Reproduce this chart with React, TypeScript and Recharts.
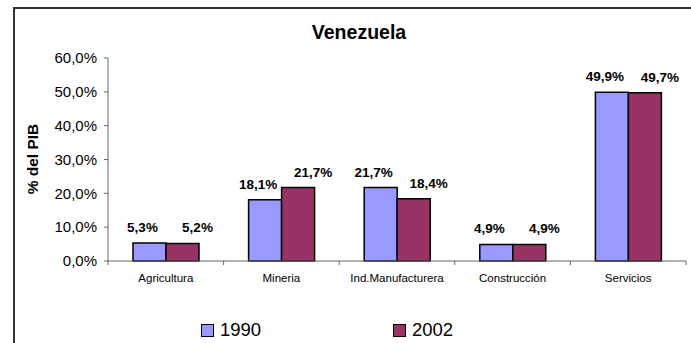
import React from "react";
import { Bar, BarChart, LabelList, XAxis, YAxis } from "recharts";

const categories = ["Agricultura", "Mineria", "Ind.Manufacturera", "Construcción", "Servicios"];
const values1990 = [5.3, 18.1, 21.7, 4.9, 49.9];
const values2002 = [5.2, 21.7, 18.4, 4.9, 49.7];
const yTicks = [0, 10, 20, 30, 40, 50, 60];
const seriesNames = ["1990", "2002"];
const seriesColors = ["#9999FF", "#993366"];

const FONT = "'Liberation Sans', Arial, sans-serif";

const data = categories.map((name, i) => ({
    name,
    v1990: values1990[i],
    v2002: values2002[i],
}));

const pct = (v: number) => `${v.toFixed(1).replace(".", ",")}%`;

const CategoryTick = (props: any) => {
    const { x, y, payload, index } = props;
    const half = payload.offset ?? 0;
    return (
        <g>
            {index === 0 && <line x1={x - half} x2={x - half} y1={y} y2={y + 4} stroke="#666" />}
            <line x1={x + half} x2={x + half} y1={y} y2={y + 4} stroke="#666" />
            <text x={x} y={y + 13} dy="0.71em" textAnchor="middle" fontSize={11.5} fill="#000" fontFamily={FONT}>
                {payload.value}
            </text>
        </g>
    );
};

const makeLabel = (dx: number) => (props: any) => {
    const { x, y, width, value } = props;
    return (
        <text
            x={x + width / 2 + dx}
            y={y - 11}
            textAnchor="middle"
            fontSize={13.5}
            fontWeight="bold"
            fill="#000"
            fontFamily={FONT}
        >
            {pct(value)}
        </text>
    );
};

export default function App() {
    return (
        <div style={{ position: "absolute", left: 0, top: 0, width: 691, height: 343, background: "#fff", fontFamily: FONT }}>
            <div
                style={{
                    position: "absolute",
                    left: 13,
                    top: 7,
                    right: 0,
                    bottom: 0,
                    borderLeft: "2px solid #333",
                    borderTop: "2px solid #333",
                }}
            />
            <BarChart
                width={691}
                height={343}
                data={data}
                margin={{ top: 58, right: 5, bottom: 52, left: 0 }}
                barSize={33}
                barGap={0}
            >
                <text x={359} y={39} textAnchor="middle" fontSize={19.5} fontWeight="bold" fontFamily={FONT} fill="#000">
                    Venezuela
                </text>
                <text
                    x={38}
                    y={159}
                    transform="rotate(-90 38 159)"
                    textAnchor="middle"
                    fontSize={15.5}
                    fontWeight="bold"
                    fontFamily={FONT}
                    fill="#000"
                >
                    % del PIB
                </text>
                <XAxis
                    dataKey="name"
                    height={30}
                    axisLine={{ stroke: "#666" }}
                    tickLine={false}
                    tickSize={0}
                    tickMargin={0}
                    interval={0}
                    tick={<CategoryTick />}
                />
                <YAxis
                    width={108}
                    domain={[0, 60]}
                    ticks={yTicks}
                    tickFormatter={pct}
                    axisLine={{ stroke: "#666" }}
                    tickLine={{ stroke: "#666" }}
                    tickSize={4}
                    tickMargin={7}
                    tick={{ fill: "#000", fontSize: 15, fontFamily: FONT }}
                />
                <Bar dataKey="v1990" fill={seriesColors[0]} stroke="#000" strokeWidth={1.5} isAnimationActive={false}>
                    <LabelList dataKey="v1990" content={makeLabel(-7)} />
                </Bar>
                <Bar dataKey="v2002" fill={seriesColors[1]} stroke="#000" strokeWidth={1.5} isAnimationActive={false}>
                    <LabelList dataKey="v2002" content={makeLabel(15)} />
                </Bar>
            </BarChart>
            {seriesNames.map((name, i) => (
                <div
                    key={name}
                    style={{
                        position: "absolute",
                        left: i === 0 ? 201 : 393,
                        top: 320,
                        display: "flex",
                        alignItems: "center",
                        fontSize: 18.5,
                        lineHeight: "20px",
                        color: "#000",
                    }}
                >
                    <span
                        style={{
                            display: "inline-block",
                            width: 11,
                            height: 11,
                            background: seriesColors[i],
                            border: "1px solid #000",
                            marginRight: 6,
                        }}
                    />
                    {name}
                </div>
            ))}
        </div>
    );
}
